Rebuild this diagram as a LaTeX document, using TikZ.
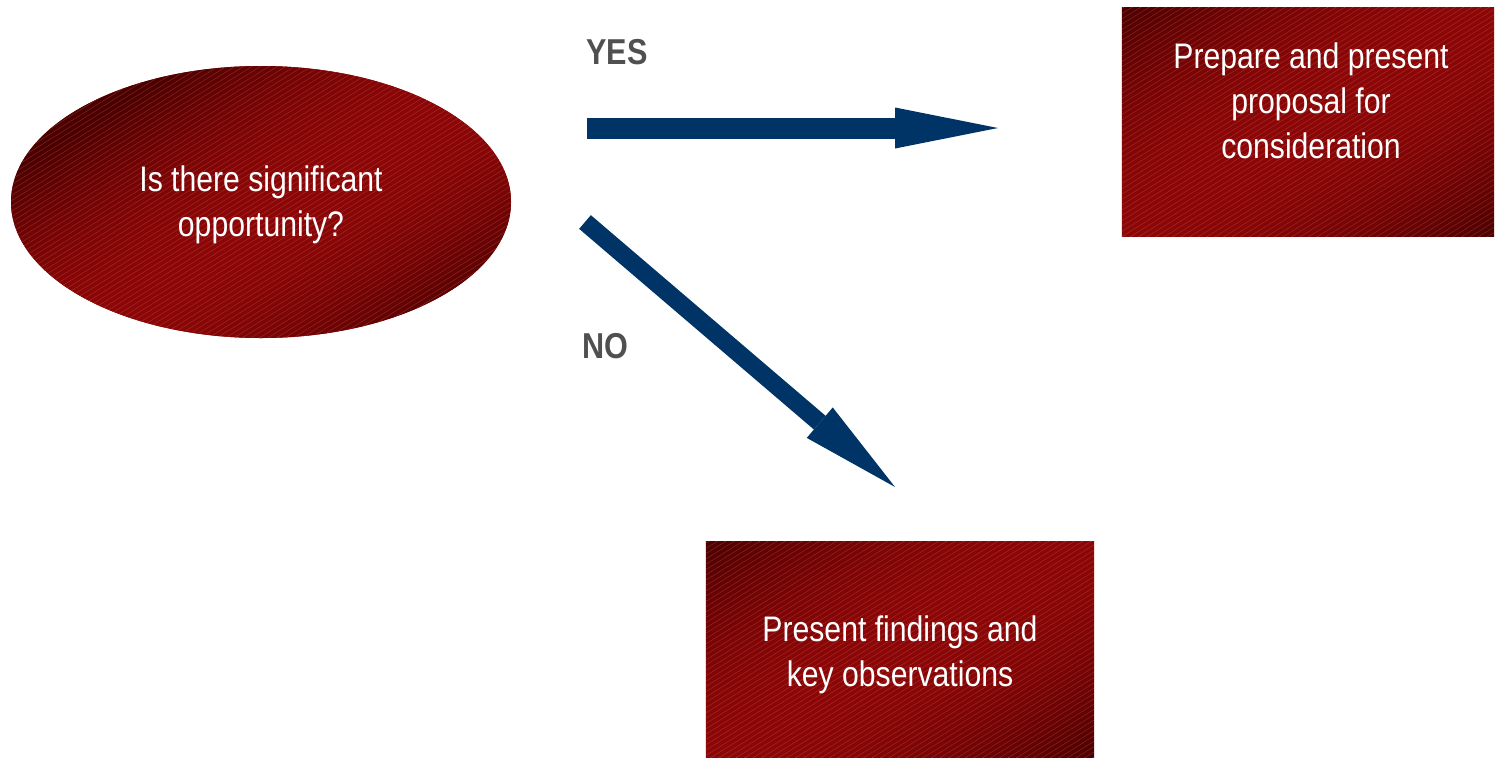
\documentclass[tikz,border=0pt]{standalone}
\usepackage{fontspec}
\setmainfont{Liberation Sans}[FakeStretch=0.85]
\usetikzlibrary{arrows.meta,shapes.geometric}
\definecolor{arrowblue}{RGB}{0,51,102}
\definecolor{darkred}{RGB}{75,0,0}
\definecolor{midred}{RGB}{140,6,6}
\definecolor{labelgray}{RGB}{80,80,80}
\definecolor{stripe}{RGB}{235,130,130}
\tikzset{
  redshape/.style={draw=none, fill=midred, inner sep=0pt},
  stripeline/.style={draw=stripe, line width=0.5pt, draw opacity=0.28},
  txt/.style={align=center, text=white, font=\fontsize{35.5}{45}\selectfont, inner sep=0pt},
  lbl/.style={text=labelgray, font=\bfseries\fontsize{36}{40}\selectfont, inner sep=0pt},
  bigarrow/.style={draw=arrowblue, line width=#1},
}
% #1 first x at y=760, #2 number of bands, #3 cx, #4 cy, #5 extent
\newcommand\mybands[5]{%
  \foreach \k in {0,...,#2} {%
    \pgfmathsetmacro\xo{#1+\k*8.5}%
    \pgfmathsetmacro\tt{min(1,abs(0.530*(\xo+4.25-#3)+0.848*(760-#4))/#5)}%
    \pgfmathtruncatemacro\pc{100*(1-\tt*\tt)}%
    \fill[midred!\pc!darkred] (\xo,760) -- ++(1300,-812) -- ++(8.8,0) -- ++(-1300,812) -- cycle;
    \draw[stripeline] (\xo,760) -- ++(1300,-812);
  }}
\begin{document}
\begin{tikzpicture}[x=1pt,y=-1pt]
\useasboundingbox (0,0) rectangle (1495,758);
% shapes
\node[ellipse, minimum width=500pt, minimum height=272pt, redshape] (q) at (261,202) {};
\node[rectangle, minimum width=372pt, minimum height=228pt, redshape] (b1) at (1308,122) {};
\node[rectangle, minimum width=388pt, minimum height=215pt, redshape] (b2) at (900,649.5) {};
% gradient bands and stripes
\begin{scope}
  \clip (q.center) ellipse [x radius=250, y radius=136];
  \mybands{-1105}{112}{300}{202}{180}
\end{scope}
\begin{scope}
  \clip (b1.north west) rectangle (b1.south east);
  \mybands{-90}{88}{1308}{122}{195}
\end{scope}
\begin{scope}
  \clip (b2.north west) rectangle (b2.south east);
  \mybands{350}{88}{900}{649.5}{194}
\end{scope}
% texts
\node[txt] (qt) at (261,205) {Is there significant\\opportunity?};
\node[txt] (b1t) at (1311,101) {Prepare and present\\proposal for\\consideration};
\node[txt] (b2t) at (900,655) {Present findings and\\key observations};
% labels
\node[lbl] (yes) at (617,52) {YES};
\node[lbl] (no) at (605,346) {NO};
% arrows
\coordinate (ys) at (587,128);
\coordinate (ye) at (998,128);
\coordinate (ns) at (585,222);
\coordinate (ne) at (895,487);
\draw[bigarrow=21pt, -{Triangle[length=103pt,width=41pt,line width=0pt]}] (ys) -- (ye);
\draw[bigarrow=18pt, -{Triangle[length=99pt,width=40pt,line width=0pt]}] (ns) -- (ne);
\end{tikzpicture}
\end{document}
